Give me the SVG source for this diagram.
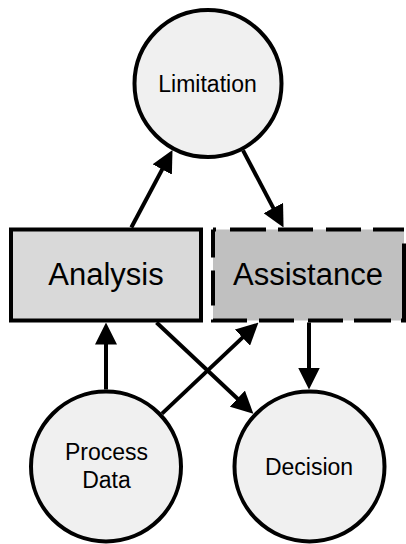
<svg xmlns="http://www.w3.org/2000/svg" width="406" height="544" viewBox="0 0 406 544">
  <style>
    .circle { fill: #f0f0f0; stroke: #000; stroke-width: 4; }
    .box { stroke: #000; stroke-width: 4; }
    .label { font-family: "Liberation Sans", Arial, sans-serif; fill: #000; text-anchor: middle; }
    .small { font-size: 23px; }
    .big { font-size: 31px; }
    .edge { fill: none; stroke: #000; stroke-width: 4; marker-end: url(#arrow); }
  </style>
  <defs>
    <marker id="arrow" markerUnits="userSpaceOnUse" markerWidth="22" markerHeight="22" refX="12" refY="11" orient="auto">
      <path d="M0,0 L22,11 L0,22 Z" fill="#000"/>
    </marker>
  </defs>
  <rect width="406" height="544" fill="#fff"/>

  <g id="limitation">
    <circle class="circle" cx="208" cy="83.5" r="73.5"/>
    <text class="label small" x="207.5" y="92">Limitation</text>
  </g>

  <g id="analysis">
    <rect class="box" x="11" y="229.5" width="190" height="91" fill="#d9d9d9"/>
    <text class="label big" x="106" y="285">Analysis</text>
  </g>

  <g id="assistance">
    <rect x="213" y="229.5" width="191" height="91" fill="#c0c0c0"/>
    <path class="box" fill="none" d="M213,229.5 H404 V320.5 H213 Z" stroke-linejoin="miter"
          stroke-dasharray="3 14 36 12 35 13 35 12 31 14 80 10 37 11 35 14 35 12 35 14 35 13 28 0"/>
    <text class="label big" x="308" y="285">Assistance</text>
  </g>

  <g id="process-data">
    <circle class="circle" cx="106" cy="466.5" r="75"/>
    <text class="label small" x="106.5" y="460">Process</text>
    <text class="label small" x="106.5" y="488">Data</text>
  </g>

  <g id="decision">
    <circle class="circle" cx="309.5" cy="466.5" r="75"/>
    <text class="label small" x="309" y="475">Decision</text>
  </g>

  <g id="connectors">
    <line class="edge" x1="131.3" y1="227.5" x2="167.8" y2="158.9"/>
    <line class="edge" x1="243" y1="150.4" x2="278.9" y2="218.6"/>
    <line class="edge" x1="106" y1="389.5" x2="106" y2="332.5"/>
    <line class="edge" x1="162" y1="413.6" x2="251.2" y2="329.4"/>
    <line class="edge" x1="156.5" y1="322.5" x2="246.1" y2="406.8"/>
    <line class="edge" x1="309" y1="322.5" x2="309" y2="379.5"/>
  </g>
</svg>
